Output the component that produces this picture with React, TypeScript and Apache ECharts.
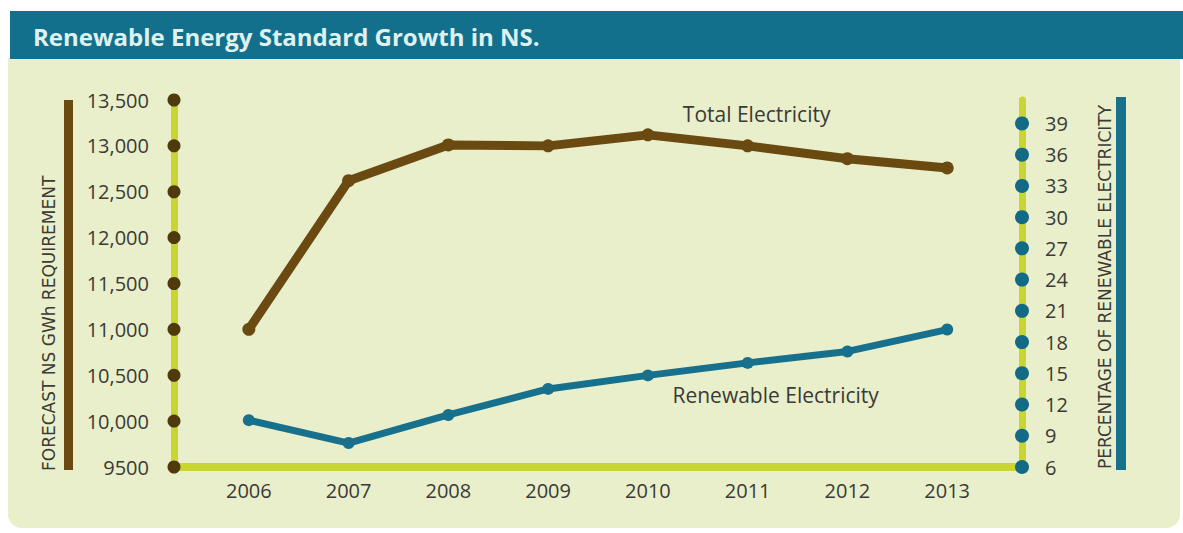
import React, { useEffect, useRef } from "react";
import * as echarts from "echarts";

const years = [2006, 2007, 2008, 2009, 2010, 2011, 2012, 2013];
const totalElectricity = [11000, 12620, 13010, 13000, 13120, 13000, 12860, 12760];
const renewableElectricity = [10.5, 8.3, 11.0, 13.5, 14.8, 16.0, 17.1, 19.2];
const leftTicks = [9500, 10000, 10500, 11000, 11500, 12000, 12500, 13000, 13500];
const rightTicks = [6, 9, 12, 15, 18, 21, 24, 27, 30, 33, 36, 39];

const TITLE = "Renewable Energy Standard Growth in NS.";
const LEFT_NAME = "FORECAST NS GWh REQUIREMENT";
const RIGHT_NAME = "PERCENTAGE OF RENEWABLE ELECTRICITY";
const TOTAL_NAME = "Total Electricity";
const RENEW_NAME = "Renewable Electricity";

const BROWN = "#6b4a12";
const TEAL = "#17708c";
const YELLOW = "#c9d531";
const PANEL = "#e9efcb";
const TEXT = "#3a3a36";
const FONT = "'Open Sans', Lato, sans-serif";
const NAME_FONT = "'DejaVu Sans', 'Open Sans', sans-serif";

export default function App() {
  const ref = useRef<HTMLDivElement>(null);

  useEffect(() => {
    if (!ref.current) return;
    const chart = echarts.init(ref.current, null, { renderer: "svg" });

    const labelIdx = years.indexOf(2011);

    const option: any = {
      animation: false,
      backgroundColor: "#ffffff",
      textStyle: { fontFamily: FONT },
      graphic: [
        {
          type: "rect",
          z: -10,
          shape: { x: 8, y: 58, width: 1172, height: 470, r: [0, 0, 14, 14] },
          style: { fill: PANEL },
          silent: true,
        },
        {
          type: "rect",
          z: -5,
          shape: { x: 10, y: 11, width: 1173, height: 48 },
          style: { fill: "#13708c" },
          silent: true,
        },
        {
          type: "text",
          x: 33,
          y: 36,
          style: {
            text: TITLE,
            fill: "#dff0ef",
            font: `bold 24px ${FONT}`,
            textVerticalAlign: "middle",
          },
        },
        {
          type: "rect",
          shape: { x: 64, y: 100, width: 9, height: 370 },
          style: { fill: BROWN },
          silent: true,
        },
        {
          type: "text",
          x: 49,
          y: 471,
          rotation: Math.PI / 2,
          style: {
            text: LEFT_NAME,
            fill: TEXT,
            font: `17px ${NAME_FONT}`,
            textAlign: "left",
            textVerticalAlign: "middle",
          },
        },
        {
          type: "rect",
          shape: { x: 1116, y: 97, width: 10, height: 373 },
          style: { fill: TEAL },
          silent: true,
        },
        {
          type: "text",
          x: 1105,
          y: 469,
          rotation: Math.PI / 2,
          style: {
            text: RIGHT_NAME,
            fill: TEXT,
            font: `17px ${NAME_FONT}`,
            textAlign: "left",
            textVerticalAlign: "middle",
          },
        },
      ],
      grid: { left: 174, right: 161, top: 100, bottom: 66, containLabel: false },
      xAxis: [
        {
          type: "value",
          min: 2005.25,
          max: 2013.75,
          axisLine: { show: true, lineStyle: { color: YELLOW, width: 8 } },
          axisTick: { show: false },
          splitLine: { show: false },
          axisLabel: {
            customValues: years,
            margin: 13,
            color: TEXT,
            fontSize: 20,
            fontFamily: FONT,
            formatter: (v: number) => String(v),
          },
        },
        { type: "value", min: 0, max: 1, show: false },
      ],
      yAxis: [
        {
          type: "value",
          min: 9500,
          max: 13500,
          interval: 500,
          axisLine: { show: true, lineStyle: { color: YELLOW, width: 7 } },
          axisTick: { show: false },
          splitLine: { show: false },
          axisLabel: {
            margin: 25,
            color: TEXT,
            fontSize: 20,
            fontFamily: FONT,
            formatter: (v: number) => (v >= 10000 ? v.toLocaleString("en-US") : String(v)),
          },
        },
        {
          type: "value",
          position: "right",
          min: 6,
          max: 41.25,
          interval: 3,
          axisLine: { show: true, lineStyle: { color: YELLOW, width: 7 } },
          axisTick: { show: false },
          splitLine: { show: false },
          axisLabel: {
            margin: 23,
            color: TEXT,
            fontSize: 20,
            fontFamily: FONT,
            showMaxLabel: false,
            formatter: (v: number) => (rightTicks.includes(v) ? String(v) : ""),
          },
        },
      ],
      series: [
        {
          type: "line",
          name: TOTAL_NAME,
          xAxisIndex: 0,
          yAxisIndex: 0,
          clip: false,
          data: years.map((y, i) => {
            const item: any = { value: [y, totalElectricity[i]] };
            if (i === labelIdx) {
              item.label = {
                show: true,
                position: "top",
                offset: [9, -10],
                formatter: TOTAL_NAME,
                color: TEXT,
                fontSize: 21,
                fontFamily: FONT,
              };
            }
            return item;
          }),
          symbol: "circle",
          symbolSize: 13,
          lineStyle: { color: BROWN, width: 9 },
          itemStyle: { color: BROWN },
          z: 5,
        },
        {
          type: "line",
          name: RENEW_NAME,
          xAxisIndex: 0,
          yAxisIndex: 1,
          clip: false,
          data: years.map((y, i) => {
            const item: any = { value: [y, renewableElectricity[i]] };
            if (i === labelIdx) {
              item.label = {
                show: true,
                position: "bottom",
                offset: [28, 11],
                formatter: RENEW_NAME,
                color: TEXT,
                fontSize: 21,
                fontFamily: FONT,
              };
            }
            return item;
          }),
          symbol: "circle",
          symbolSize: 12,
          lineStyle: { color: TEAL, width: 7 },
          itemStyle: { color: TEAL },
          z: 5,
        },
        {
          type: "scatter",
          xAxisIndex: 1,
          yAxisIndex: 0,
          clip: false,
          silent: true,
          data: leftTicks.map((v) => [0, v]),
          symbol: "circle",
          symbolSize: 13,
          itemStyle: { color: "#4f3a0e", opacity: 1 },
          z: 6,
        },
        {
          type: "scatter",
          xAxisIndex: 1,
          yAxisIndex: 1,
          clip: false,
          silent: true,
          data: rightTicks.map((v) => [1, v]),
          symbol: "circle",
          symbolSize: 14,
          itemStyle: { color: "#136a86", opacity: 1 },
          z: 6,
        },
      ],
    };

    chart.setOption(option);
    return () => chart.dispose();
  }, []);

  return (
    <div
      ref={ref}
      style={{ position: "fixed", left: 0, top: 0, width: 1183, height: 533 }}
    />
  );
}
